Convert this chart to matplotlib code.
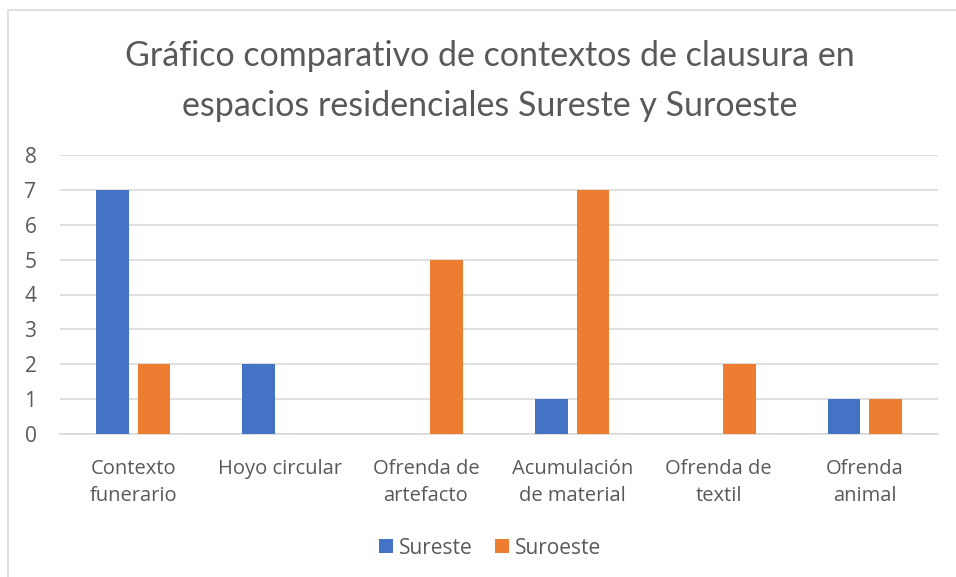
import matplotlib
matplotlib.use("Agg")
import matplotlib.pyplot as plt
from matplotlib.patches import Rectangle
import numpy as np

categories = ["Contexto\nfunerario", "Hoyo circular", "Ofrenda de\nartefacto",
              "Acumulación\nde material", "Ofrenda de\ntextil", "Ofrenda\nanimal"]
sureste = [7, 2, 0, 1, 0, 1]
suroeste = [2, 0, 5, 7, 2, 1]
series_names = ["Sureste", "Suroeste"]
colors = ["#4472C4", "#ED7D31"]
yticks = [0, 1, 2, 3, 4, 5, 6, 7, 8]

W, H = 956, 577
fig = plt.figure(figsize=(W/100, H/100), dpi=100)
fig.patch.set_facecolor("white")

# chart border
fig.add_artist(Rectangle((8/W, -0.01), 1.1, 1 - 10/H + 0.01, transform=fig.transFigure,
                         fill=False, edgecolor="#D9D9D9", linewidth=1.2))

ax = fig.add_axes([60/W, 1 - 434/H, (938-60)/W, (434-155)/H])
x = np.arange(len(categories))
bw = 0.225
gap = 0.03
ax.bar(x - bw/2 - gap, sureste, width=bw, color=colors[0], label=series_names[0], zorder=3)
ax.bar(x + bw/2 + gap, suroeste, width=bw, color=colors[1], label=series_names[1], zorder=3)
ax.set_xlim(-0.5, len(categories) - 0.5)
ax.set_ylim(0, 8)
ax.set_yticks(yticks)
ax.yaxis.grid(True, color="#D9D9D9", linewidth=1.2, zorder=0)
ax.set_axisbelow(True)
for s in ["top", "right", "left"]:
    ax.spines[s].set_visible(False)
ax.spines["bottom"].set_color("#D9D9D9")
ax.spines["bottom"].set_linewidth(1.2)
ax.tick_params(axis="both", length=0, colors="#595959")
ax.tick_params(axis="y", pad=17)
ax.tick_params(axis="x", pad=18)
ax.set_xticks(x)
ax.set_xticklabels(categories, fontsize=14.5, family="Open Sans", color="#595959", linespacing=1.45)
for lab in ax.get_yticklabels():
    lab.set_fontsize(15)
    lab.set_family("Open Sans")
    lab.set_color("#595959")

cx = 490 / W
fig.text(cx, 1 - 81/H, "Gráfico comparativo de contextos de clausura en\nespacios residenciales Sureste y Suroeste",
         ha="center", va="center", fontsize=24.5, family="Lato",
         color="#595959", linespacing=1.7)

leg = fig.legend(loc="center", bbox_to_anchor=(cx, 1 - 548/H), ncol=2, frameon=False,
                 prop={"family": "Open Sans", "size": 15}, handlelength=0.68, handleheight=0.68,
                 handletextpad=0.3, columnspacing=1.05)
for t in leg.get_texts():
    t.set_color("#595959")

fig.savefig("out.png", dpi=100, facecolor="white")
